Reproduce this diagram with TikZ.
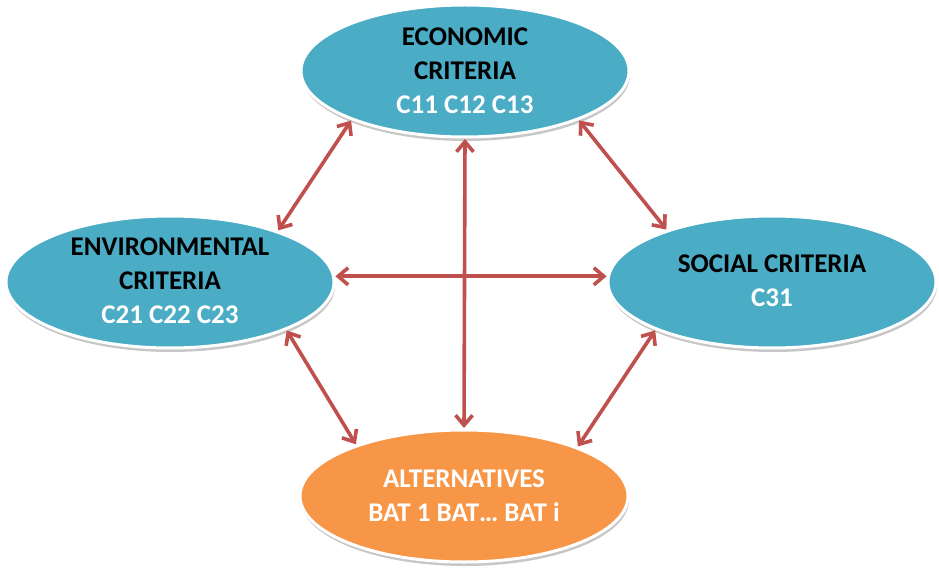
\documentclass[tikz,border=0pt]{standalone}
\usepackage{fontspec}
\setmainfont{Carlito}
\usetikzlibrary{shapes.geometric,arrows.meta,shadows}
\definecolor{teal1}{HTML}{4BACC6}
\definecolor{orng}{HTML}{F79646}
\definecolor{arrowred}{HTML}{C0504D}
\tikzset{
  oval/.style={ellipse, draw=white, line width=3pt, inner sep=0pt, outer sep=0pt,
    minimum width=328pt, minimum height=132pt,
    drop shadow={shadow xshift=1pt, shadow yshift=-4pt, opacity=.22, fill=black}},
  crit/.style={oval, fill=teal1},
  alt/.style={oval, fill=orng},
  lbl/.style={align=center, font=\fontsize{27}{34}\selectfont\bfseries, inner sep=0pt},
  link/.style={draw=arrowred, line width=3.6pt, {Straight Barb[length=10pt,width=17pt,line width=3.6pt]}-{Straight Barb[length=10pt,width=17pt,line width=3.6pt]}, shorten <=2pt, shorten >=2pt}
}
\begin{document}
\begin{tikzpicture}[x=1pt,y=-1pt]
\useasboundingbox (0,0) rectangle (939,569);
\node[crit] (econ) at (465,71) {};
\node[crit] (env) at (170,282) {};
\node[crit] (soc) at (772,282) {};
\node[alt] (alt) at (464,496) {};
\node[lbl] (econT) at (465,71) {ECONOMIC\\CRITERIA\\\textcolor{white}{C11 C12 C13}};
\node[lbl] (envT) at (170,281) {ENVIRONMENTAL\\CRITERIA\\\textcolor{white}{C21 C22 C23}};
\node[lbl] (socT) at (772,281) {SOCIAL CRITERIA\\\textcolor{white}{C31}};
\node[lbl, text=white] (altT) at (464,496) {ALTERNATIVES\\BAT 1 BAT\dots\ BAT i};
\draw[link] (econ.203) -- (env.25);
\draw[link] (econ.337) -- (soc.154);
\draw[link] (econ.270) -- (alt.90);
\draw[link] (env.2) -- (soc.178);
\draw[link] (env.338) -- (alt.155);
\draw[link] (soc.202) -- (alt.23);
\end{tikzpicture}
\end{document}
